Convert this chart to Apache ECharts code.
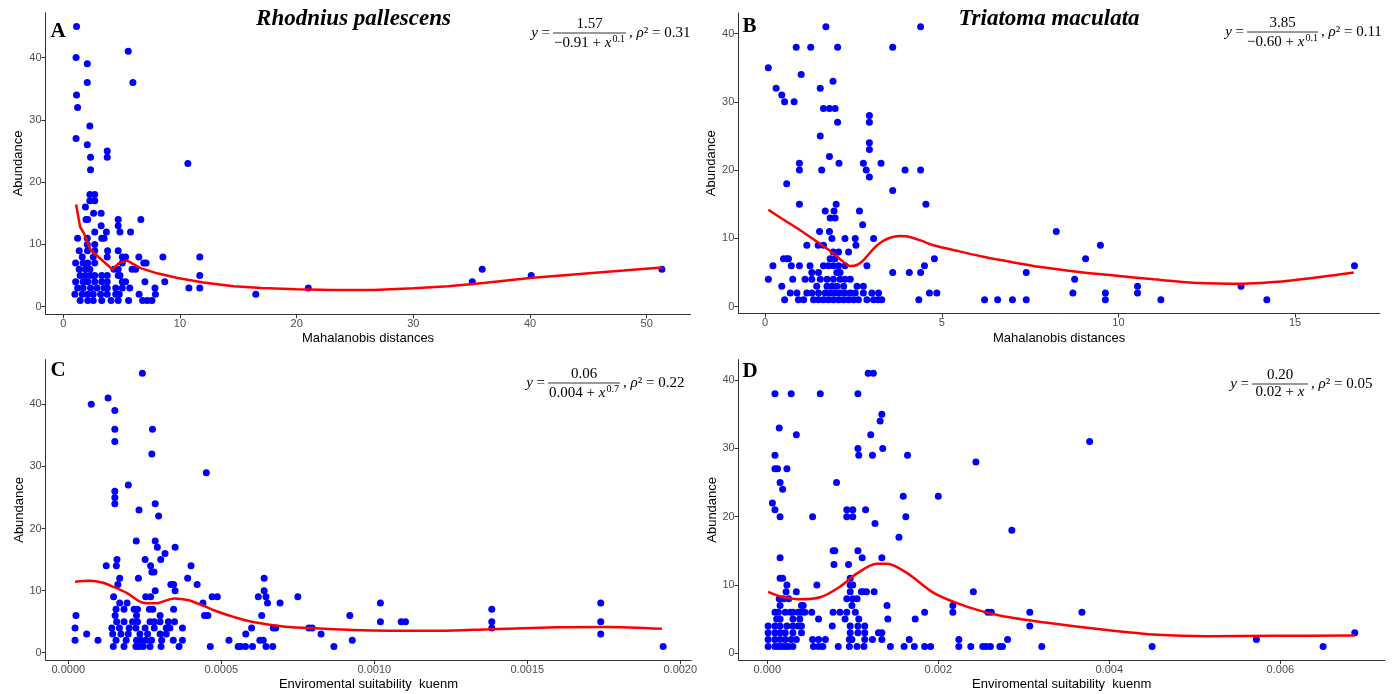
<!DOCTYPE html>
<html><head><meta charset="utf-8">
<script src="https://cdn.jsdelivr.net/npm/echarts@6/dist/echarts.min.js"></script>
<style>html,body{margin:0;padding:0;background:#fff}#c{width:1398px;height:694px}</style>
</head><body><div id="c"></div>
<script>
// ---------- DATA ----------
// Panel A: Rhodnius pallescens, Mahalanobis distance vs abundance
const ptsA = [[1.14,45],[1.1,40],[5.57,41],[2.06,39],[2.06,36],[5.97,36],[1.14,34],[1.23,32],[2.28,29],[1.1,27],[2.06,26],[3.77,25],[3.77,24],[2.34,24],[2.34,22],[10.68,23],[2.28,18],[2.7,18],[2.28,17],[2.7,17],[1.9,16],[2.6,15],[3.25,15],[1.95,14],[2.1,14],[4.71,14],[6.65,14],[3.25,13],[4.71,13],[2.7,12],[3.7,12],[4.86,12],[5.77,12],[1.23,11],[2.06,11],[3.3,11],[3.5,11],[2.06,10],[2.7,10],
[1.37,9],[2.08,9],[2.7,9],[3.8,9],[4.71,9],
[1.63,8],[2.57,8],[3.77,8],[5.06,8],[5.34,8],[6.48,8],[8.54,8],[11.7,8],
[1.06,7],[1.7,7],[2.1,7],[2.7,7],[5.06,7],[6.9,7],[7.1,7],
[1.37,6],[1.9,6],[2.28,6],[4.35,6],[4.71,6],[5.9,6],[6.2,6],
[1.45,5],[1.9,5],[2.34,5],[2.7,5],[3.3,5],[3.77,5],[4.71,5],[4.86,5],[11.7,5],
[1.06,4],[1.7,4],[2.1,4],[2.7,4],[3.3,4],[3.77,4],[5.06,4],[5.34,4],[7.0,4],[8.7,4],
[1.23,3],[1.7,3],[2.34,3],[2.9,3],[3.5,3],[3.77,3],[4.5,3],[5.06,3],[5.7,3],[7.86,3],[10.77,3],[11.7,3],[21.0,3],
[1.0,2],[1.63,2],[2.1,2],[2.57,2],[3.2,2],[3.77,2],[4.5,2],[4.8,2],[6.5,2],[7.9,2],[16.5,2],
[1.45,1],[2.1,1],[2.57,1],[3.3,1],[4.1,1],[4.71,1],[5.6,1],[6.8,1],[7.2,1],[7.6,1],
[35.05,4],[35.9,6],[40.1,5],[51.3,6]];
const curveA = [[1.1,16.4],[1.45,12.8],[1.77,11.8],[2.34,9.1],[3.2,7.7],[4.2,6.0],[4.77,7.0],[5.48,7.4],[6.62,6.2],[8.05,5.36],[9.8,4.6],[12,3.9],[14.6,3.3],[17,3.0],[20,2.8],[23,2.7],[26.6,2.7],[30,2.95],[33,3.3],[36,3.8],[40,4.6],[44,5.2],[48,5.8],[51.3,6.3]];

// Panel B: Triatoma maculata, Mahalanobis distance vs abundance
const ptsB = [[0.09,35],[0.31,32],[0.47,31],[0.55,30],[0.82,30],[0.88,38],[1.29,38],[1.72,41],[2.05,38],[1.02,34],[1.56,32],[1.92,33],[1.65,29],[1.82,29],[1.98,29],[2.05,27],[1.56,25],[1.82,22],[0.97,21],[0.97,20],[1.6,20],[2.09,21],[0.61,18],[0.97,15],[2.01,15],[1.7,14],[1.95,14],[1.84,13],[1.98,13],[2.67,14],[2.76,12],[1.54,11],[1.82,11],[1.89,10],[2.26,10],[2.55,10],[3.07,10],[1.18,9],[1.5,9],[1.65,9],[2.57,9],[3.61,17],[2.95,28],[2.95,27],[2.95,24],[2.95,23],[2.95,19],[2.78,21],[3.28,21],[2.86,20],[3.61,38],[4.4,41],[3.96,20],[4.4,20],[4.55,15],[4.79,7],[4.51,6],[4.4,5],[3.61,5],[4.08,5],[4.65,2],[4.86,2],[4.35,1],[6.21,1],[6.58,1],[7.0,1],[7.39,1],[7.39,5],[2.88,6],[2.78,3],
[8.24,11],[9.49,9],[9.07,7],[8.76,4],[8.71,2],[9.63,2],[9.63,1],[10.54,3],[10.54,2],[11.2,1],[13.47,3],[14.2,1],[16.68,6],
[0.55,1],[0.94,1],[1.09,1],[1.37,1],[1.51,1],[1.65,1],[1.79,1],[1.93,1],[2.08,1],[2.22,1],[2.36,1],[2.5,1],[2.64,1],[2.88,1],[3.07,1],[3.2,1],[3.3,1],
[0.71,2],[0.9,2],[1.18,2],[1.32,2],[1.51,2],[1.7,2],[1.84,2],[1.98,2],[2.12,2],[2.26,2],[2.41,2],[2.55,2],[2.78,2],[3.02,2],[3.21,2],
[0.47,3],[1.46,3],[1.75,3],[1.89,3],[2.03,3],[2.22,3],[2.6,3],
[0.09,4],[0.78,4],[1.13,4],[1.32,4],[1.56,4],[1.75,4],[1.93,4],[2.12,4],[2.26,4],[2.41,4],
[1.32,5],[1.51,5],[2.03,5],[2.12,5],
[0.22,6],[0.74,6],[0.97,6],[1.27,6],[1.65,6],[1.79,6],[1.93,6],[2.08,6],[2.26,6],
[0.52,7],[0.61,7],[0.66,7],[1.84,7],[1.98,7],
[1.93,8],[2.08,8],[2.36,8]];
const curveB = [[0.09,14.2],[0.5,12.8],[0.99,11.2],[1.5,9.4],[1.93,7.8],[2.2,6.6],[2.4,5.95],[2.6,6.1],[2.8,6.9],[3.07,8.5],[3.3,9.5],[3.54,10.1],[3.8,10.35],[4.0,10.3],[4.4,9.7],[4.76,9.0],[5.5,8.1],[6.18,7.3],[7.0,6.5],[7.8,5.8],[9.0,5.0],[10.02,4.5],[11,4.0],[12.3,3.45],[13.5,3.35],[14.4,3.6],[15.5,4.2],[16.66,5.0]];

// Panel C: Rhodnius pallescens, environmental suitability (x in units of 1e-4)
const ptsC_e4 = [[2.42,45],[0.75,40],[1.30,41],[1.52,39],[1.52,36],[1.52,34],[2.75,36],[2.73,32],[4.51,29],[1.96,27],[1.52,26],[1.52,25],[1.52,24],[2.31,23],[2.84,24],[2.95,22],[2.22,18],[2.84,18],[2.91,17],[3.16,16],[3.49,17],[3.02,15],[2.51,15],[1.24,14],[1.57,14],[1.59,15],[2.69,14],[2.73,13],[2.80,13],[4.01,14],[2.29,12],[1.68,12],[3.9,12],[1.62,11],[4.21,11],[3.35,11],[3.44,11],[2.84,10],[3.49,10],[4.7,9],[4.87,9],[2.53,9],[2.69,9],[1.48,9],[4.4,8],[1.68,8],[1.92,8],[4.45,6],[4.56,6],[4.64,1],[0.25,6],[0.22,4],[0.22,2],[0.6,3],[0.97,2],[5.25,2],[5.55,1],[5.64,1],[5.79,1],[5.8,3],[5.99,4],[6.02,1],[6.21,9],[6.32,6],[6.4,12],[6.4,10],[6.46,9],[6.51,8],[6.26,2],[6.37,2],[6.46,1],[6.68,1],[6.7,4],[6.78,4],[6.92,8],[7.5,9],[7.86,4],[7.97,4],[8.26,3],[8.68,1],[9.2,6],[9.28,2],[10.2,8],[10.2,5],[10.88,5],[11.02,5],[13.84,7],[13.84,5],[13.84,4],[17.4,8],[17.4,5],[17.4,3],[19.44,1],
[1.47,1],[1.82,1],[2.21,1],[2.31,1],[2.45,1],[2.67,1],[3.03,1],[3.62,1],
[1.56,2],[1.89,2],[2.23,2],[2.38,2],[2.54,2],[2.72,2],[3.05,2],[3.43,2],[3.73,2],
[1.45,3],[1.72,3],[1.96,3],[2.34,3],[2.59,3],[3.0,3],[3.2,3],
[1.42,4],[1.67,4],[1.99,4],[2.21,4],[2.51,4],[2.81,4],[3.2,4],[3.32,4],[3.73,4],
[1.58,5],[1.82,5],[2.1,5],[2.26,5],[2.67,5],[2.81,5],[3.0,5],[3.27,5],[3.47,5],
[1.53,6],[2.23,6],[3.0,6],
[1.56,7],[1.82,7],[2.15,7],[2.26,7],[2.65,7],[2.76,7],[3.44,7]];
const curveC_e4 = [[0.22,11.45],[0.71,11.6],[1.1,11.3],[1.48,10.6],[1.92,9.6],[2.42,8.1],[2.86,7.95],[3.46,8.75],[3.9,8.5],[4.4,7.6],[4.89,6.6],[5.45,5.7],[5.99,5.0],[7.09,4.2],[8.2,3.9],[9.29,3.65],[10.5,3.55],[12.15,3.55],[13.8,3.8],[15.97,4.1],[17.6,4.15],[19.4,3.85]];

// Panel D: Triatoma maculata, environmental suitability (x in units of 1e-3)
const ptsD_e3 = [[0.09,38],[0.28,38],[0.62,38],[1.06,38],[1.18,41],[1.24,41],[1.34,35],[1.32,34],[0.14,33],[0.34,32],[1.21,32],[1.06,30],[1.07,29],[1.23,29],[1.35,30],[1.64,29],[0.09,29],[0.09,27],[0.12,27],[0.23,27],[0.15,25],[0.18,24],[0.81,25],[0.06,22],[0.09,21],[0.15,20],[0.53,20],[0.93,21],[1.0,21],[0.93,20],[1.0,20],[1.15,21],[1.26,19],[1.59,23],[2.0,23],[1.62,20],[1.54,17],[2.86,18],[2.44,28],[0.77,15],[0.79,15],[1.06,15],[0.78,13],[0.95,13],[1.11,14],[1.34,14],[0.15,14],[0.15,11],[0.18,11],[0.97,11],[0.58,10],[0.23,10],[0.97,10],[1.0,10],[0.34,9],[0.22,9],[0.97,9],[1.12,9],[1.16,9],[1.25,9],[2.41,9],[0.93,8],[1.0,8],[0.14,8],[1.4,7],[2.17,7],[0.42,7],[0.99,7],[1.84,6],[2.17,6],[2.58,6],[2.62,6],[3.07,6],[3.07,4],[1.73,5],[1.41,5],[1.07,5],[0.91,5],[0.76,4],[0.6,5],[1.14,4],[1.14,3],[1.3,3],[1.34,3],[1.03,6],[0.52,6],[2.24,2],[2.24,1],[2.38,1],[2.52,1],[2.56,1],[2.61,1],[2.72,1],[2.75,1],[2.81,2],[3.21,1],[1.66,2],[1.6,1],[1.72,1],[1.84,1],[1.91,1],[1.44,1],[1.23,2],[1.34,2],[0.53,2],[0.6,2],[0.68,2],[0.65,1],[0.83,1],[0.96,2],[0.99,2],[0.96,1],[1.05,1],[1.13,1],[1.14,2],
[3.77,31],[3.68,6],[4.5,1],[5.72,2],[6.5,1],[6.87,3],
[0.01,1],[0.09,1],[0.13,1],[0.17,1],[0.21,1],[0.25,1],[0.30,1],[0.54,1],[0.60,1],
[0.01,2],[0.09,2],[0.15,2],[0.21,2],[0.28,2],[0.34,2],
[0.01,3],[0.09,3],[0.15,3],[0.21,3],[0.30,3],[0.40,3],[0.97,3],[1.06,3],
[0.01,4],[0.09,4],[0.15,4],[0.23,4],[0.30,4],[0.36,4],[0.40,4],[0.97,4],[1.06,4],
[0.11,5],[0.15,5],[0.30,5],[0.38,5],
[0.09,6],[0.13,6],[0.21,6],[0.27,6],[0.30,6],[0.36,6],[0.40,6],[0.44,6],[0.77,6],[0.85,6],[0.93,6],
[0.15,7],[0.40,7],[0.19,8],[0.25,8],[1.05,8],[1.1,9]];
const curveD_e3 = [[0.01,9.0],[0.19,8.2],[0.38,7.9],[0.62,8.2],[0.85,9.75],[1.05,11.7],[1.28,13.1],[1.4,13.1],[1.64,11.7],[1.95,8.8],[2.34,6.8],[2.73,5.5],[3.25,4.5],[3.97,3.4],[4.56,2.7],[5.15,2.5],[5.93,2.55],[6.87,2.6]];

// Tick values
const ticksAx = [0,10,20,30,40,50];
const ticksBx = [0,5,10,15];
const ticksCx = [0,0.0005,0.001,0.0015,0.002];
const ticksDx = [0,0.002,0.004,0.006];
const ticksY = [0,10,20,30,40];

// Text
const titles = ['Rhodnius pallescens','Triatoma maculata'];
const letters = ['A','B','C','D'];
const xNames = ['Mahalanobis distances','Mahalanobis distances','Enviromental suitability  kuenm','Enviromental suitability  kuenm'];
const eqs = [
  {num:'1.57', den:'−0.91 + ', sup:'0.1', rho:'0.31'},
  {num:'3.85', den:'−0.60 + ', sup:'0.1', rho:'0.11'},
  {num:'0.06', den:'0.004 + ', sup:'0.7', rho:'0.22'},
  {num:'0.20', den:'0.02 + ', sup:'', rho:'0.05'}
];

// ---------- CHART ----------
const ptsC = ptsC_e4.map(p=>[p[0]*1e-4,p[1]]);
const curveC = curveC_e4.map(p=>[p[0]*1e-4,p[1]]);
const ptsD = ptsD_e3.map(p=>[p[0]*1e-3,p[1]]);
const curveD = curveD_e3.map(p=>[p[0]*1e-3,p[1]]);

const grids = [
  {left:45.5, top:12.7, width:645, height:301.5},
  {left:738.3, top:13, width:641.6, height:300.5},
  {left:45.7, top:359.6, width:645.6, height:300.6},
  {left:738.7, top:359.6, width:646, height:300.5}
];
const xRanges = [[-1.52,53.75],[-0.76,17.4],[-0.0000739,0.002036],[-0.000334,0.00722]];
const yRanges = [[-1.2,47.2],[-1,43],[-1.2,47.2],[-1,43]];
const xTicks = [ticksAx,ticksBx,ticksCx,ticksDx];
const xFmt = [v=>String(v), v=>String(v), v=>v.toFixed(4), v=>v.toFixed(3)];
const AX = '#333333', LAB = '#4d4d4d', SANS = 'Liberation Sans, Arial, sans-serif', SERIF = 'Liberation Serif, Times New Roman, serif';

const xAxis = grids.map((g,i)=>({
  type:'value', gridIndex:i, min:xRanges[i][0], max:xRanges[i][1],
  splitLine:{show:false},
  axisLine:{show:true, onZero:false, lineStyle:{color:AX, width:1}},
  axisTick:{show:true, length:4, customValues:xTicks[i], lineStyle:{color:AX}},
  axisLabel:{customValues:xTicks[i], formatter:xFmt[i], color:LAB, fontSize:11, fontFamily:SANS, margin:4},
  name:xNames[i], nameLocation:'middle', nameGap:18,
  nameTextStyle:{color:'#000', fontSize:13, fontFamily:SANS}
}));
const yAxis = grids.map((g,i)=>({
  type:'value', gridIndex:i, min:yRanges[i][0], max:yRanges[i][1],
  splitLine:{show:false},
  axisLine:{show:true, onZero:false, lineStyle:{color:AX, width:1}},
  axisTick:{show:true, length:4, customValues:ticksY, lineStyle:{color:AX}},
  axisLabel:{customValues:ticksY, color:LAB, fontSize:11, fontFamily:SANS, margin:4},
  name:'Abundance', nameLocation:'middle', nameGap:18,
  nameTextStyle:{color:'#000', fontSize:13, fontFamily:SANS}
}));

const ptsAll = [ptsA, ptsB, ptsC, ptsD];
const curves = [curveA, curveB, curveC, curveD];
const series = [];
ptsAll.forEach((p,i)=>series.push({type:'scatter', xAxisIndex:i, yAxisIndex:i, data:p, symbolSize:7,
  itemStyle:{color:'#0000ff', opacity:1}, z:2, silent:true}));
curves.forEach((c,i)=>series.push({type:'line', xAxisIndex:i, yAxisIndex:i, data:c, showSymbol:false,
  smooth: i===0 ? false : 0.3, lineStyle:{color:'#ff0000', width:2.5}, z:3, silent:true}));

// graphic text
const graphic = [];
const titlePos = [[353.5,19],[1049,19]];
titles.forEach((t,i)=>graphic.push({type:'text', x:titlePos[i][0], y:titlePos[i][1],
  style:{text:t, font:'italic bold 23px '+SERIF, fill:'#000', align:'center', verticalAlign:'middle'}}));
const letterPos = [[50.5,31.5],[742.5,26.5],[50.5,371],[742.5,372]];
letters.forEach((t,i)=>graphic.push({type:'text', x:letterPos[i][0], y:letterPos[i][1],
  style:{text:t, font:'bold 21px '+SERIF, fill:'#000', align:'left', verticalAlign:'middle'}}));

const eqPos = [[589.5,33,36.5],[1282.5,32,35.5],[584,383,36],[1280,384,28]];
const EQF = '15px '+SERIF;
eqs.forEach((e,i)=>{
  const [cx,ly,hw] = eqPos[i];
  graphic.push({type:'text', x:cx-hw-3, y:ly, style:{text:'{i|y} =', font:EQF, fill:'#000', align:'right', verticalAlign:'middle',
    rich:{i:{fontStyle:'italic', fontSize:15, fontFamily:SERIF}}}});
  graphic.push({type:'text', x:cx, y:ly-1, style:{text:e.num, font:EQF, fill:'#000', align:'center', verticalAlign:'bottom'}});
  graphic.push({type:'line', shape:{x1:cx-hw, y1:ly, x2:cx+hw, y2:ly}, style:{stroke:'#000', lineWidth:0.8}});
  const denText = '{n|'+e.den+'}{i|x}' + (e.sup ? '{s|'+e.sup+'}' : '');
  graphic.push({type:'text', x:cx, y:ly+1, style:{text:denText, font:EQF, fill:'#000', align:'center', verticalAlign:'top',
    rich:{n:{fontSize:15, fontFamily:SERIF}, i:{fontStyle:'italic', fontSize:15, fontFamily:SERIF},
          s:{fontSize:10, fontFamily:SERIF, padding:[0,0,8,1]}}}});
  graphic.push({type:'text', x:cx+hw+3, y:ly, style:{text:'{n|, }{i|ρ}{n|² = '+e.rho+'}', font:EQF, fill:'#000', align:'left', verticalAlign:'middle',
    rich:{n:{fontSize:15, fontFamily:SERIF}, i:{fontStyle:'italic', fontSize:15, fontFamily:SERIF}}}});
});

const chart = echarts.init(document.getElementById('c'), null, {renderer:'canvas'});
chart.setOption({animation:false, backgroundColor:'#fff', grid:grids, xAxis, yAxis, series, graphic});
</script>
</body></html>
